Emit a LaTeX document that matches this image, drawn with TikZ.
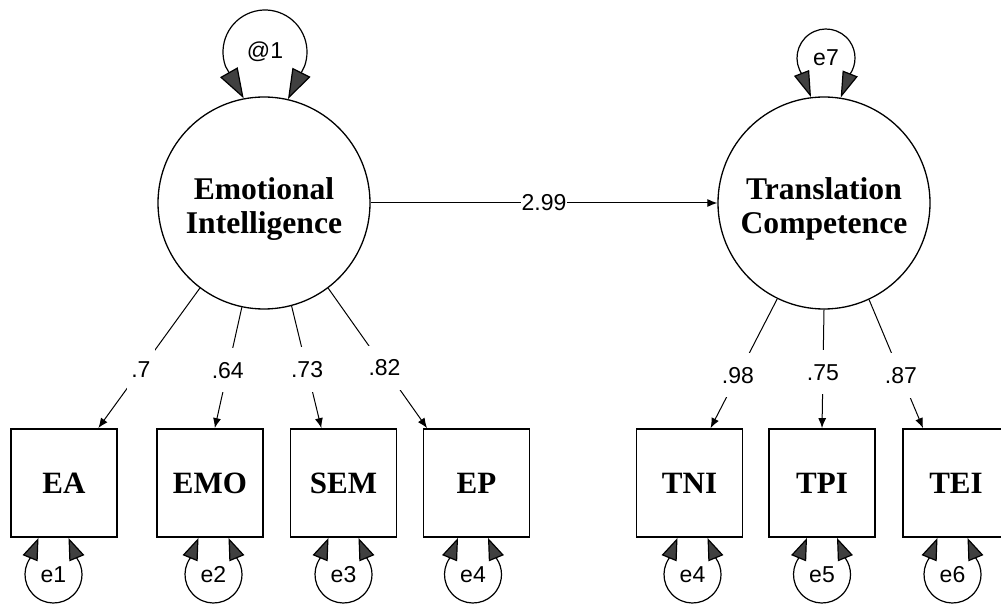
\documentclass[tikz,border=0pt]{standalone}
\usepackage{fontspec}
\setmainfont{Liberation Serif}
\setsansfont{Liberation Sans}
\usetikzlibrary{arrows.meta,calc}

\begin{document}
\begin{tikzpicture}[x=.5pt, y=.5pt, >={Latex[length=5pt,width=4pt]},
  latent/.style={draw, circle, minimum size=106pt, inner sep=0pt, line width=.65pt},
  latlab/.style={align=center, inner sep=0pt, font=\fontsize{15.8}{17}\selectfont\bfseries},
  observed/.style={draw, rectangle, minimum width=53pt, minimum height=54pt,
    line width=.9pt, font=\fontsize{15.5}{17}\selectfont\bfseries},
  coef/.style={fill=white, inner xsep=2pt, inner ysep=7pt, font=\sffamily\fontsize{11.5}{13}\selectfont},
  errlab/.style={inner sep=0pt, font=\sffamily\fontsize{11.5}{13}\selectfont},
  selfloop/.style args={#1/#2}{line width=.6pt,
    {Triangle[length=#1,width=#2,fill=black!75]}-{Triangle[length=#1,width=#2,fill=black!75]}}]
 \useasboundingbox (0,0) rectangle (1001,606);

 \node[latent] (EI) at (264,403) {};
 \node[latlab] at ([yshift=-3pt]EI) {Emotional\\Intelligence};
 \node[latent] (TC) at (824,403) {};
 \node[latlab] at ([yshift=-3pt]TC) {Translation\\Competence};

 \foreach \obs/\xx in {EA/64, EMO/210, SEM/343.5, EP/476.5, TNI/689.5, TPI/822, TEI/956}
 {
     \node[observed] (\obs) at (\xx,123) {\obs};
 }

 \draw[->, line width=.5pt](EI) -- node[fill=white, inner sep=.5pt, font=\sffamily\fontsize{11.5}{13}\selectfont]{2.99} (TC);

 \draw[->, line width=.5pt](EI.233.7) -- node[coef, pos=.58]{.7} (EA.58);
 \draw[->, line width=.5pt](EI.258.7) -- node[coef, pos=.52]{.64} (EMO.85);
 \draw[->, line width=.5pt](EI.285.9) -- node[coef, pos=.52]{.73} (SEM.112.6);
 \draw[->, line width=.5pt](EI.307.5) -- node[coef, pos=.57]{.82} (EP.132.5);
 \draw[->, line width=.5pt](TC.244.2) -- node[coef, pos=.59]{.98} (TNI.69.2);
 \draw[->, line width=.5pt](TC.270) -- node[coef, pos=.53]{.75} (TPI.north);
 \draw[->, line width=.5pt](TC.295.4) -- node[coef, pos=.59]{.87} (TEI.121.4);

 % variances on top
 \node[errlab] (v1) at (265,554) {@1};
 \draw[selfloop=15pt/10pt] (EI.101) -- ($(v1)+(200:42)$) arc[start angle=200, end angle=-20, radius=42] -- (EI.77);
 \node[errlab] (e7) at (826,548) {e7};
 \draw[selfloop=13pt/8pt] (TC.97) -- ($(e7)+(215:29)$) arc[start angle=215, end angle=-35, radius=29] -- (TC.81);

 % error loops under the boxes
 \foreach \ename/\xx/\obs in {e1/53.5/EA, e2/213.5/EMO, e3/343.5/SEM, e4/473/EP, e4/692.5/TNI, e5/822/TPI, e6/952.5/TEI}
 {
     \node[errlab] (err\obs) at (\xx,31.5) {\ename};
     \draw[selfloop=11pt/8pt] ($(err\obs |- \obs.south)+(-15,0)$) -- ($(err\obs)+(145:28.5)$)
         arc[start angle=145, end angle=395, radius=28.5] -- ($(err\obs |- \obs.south)+(15,0)$);
 }
\end{tikzpicture}
\end{document}
